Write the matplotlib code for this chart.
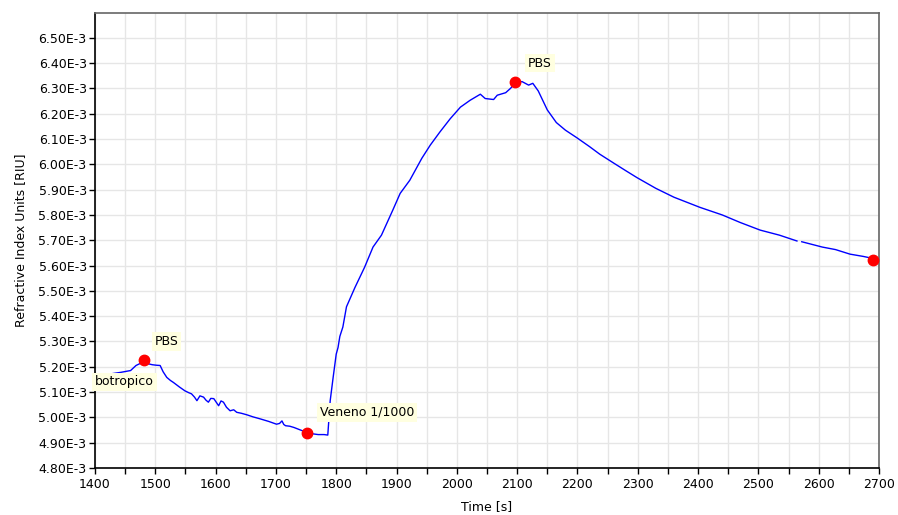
import numpy as np
import matplotlib
matplotlib.use("Agg")
import matplotlib.pyplot as plt
from matplotlib.ticker import MultipleLocator, FuncFormatter

# Messkurve, Zeit in s, Signal in 1E-3 RIU
zeit = [1400, 1403, 1410, 1421, 1432, 1443, 1452, 1459, 1468, 1474, 1481,
        1488, 1495, 1502, 1508, 1513, 1519, 1525, 1530, 1540, 1549, 1555,
        1560, 1565, 1569, 1574, 1580, 1584, 1588, 1592, 1597, 1601, 1605,
        1609, 1613, 1618, 1624, 1630, 1635, 1643, 1652, 1662, 1674, 1688,
        1701, 1706, 1710, 1713, 1716, 1723, 1730, 1744, 1752, 1758, 1770,
        1780, 1786, 1790, 1795, 1800, 1803, 1806, 1811, 1817, 1831, 1847,
        1861, 1875, 1894, 1906, 1922, 1942, 1956, 1972, 1989, 2006, 2022,
        2039, 2047, 2061, 2067, 2081, 2089, 2097, 2108, 2119, 2126, 2135,
        2150, 2165, 2180, 2199, 2220, 2237, 2260, 2280, 2299, 2330, 2360,
        2403, 2440, 2470, 2503, 2535, 2564]
riu = [5.152, 5.160, 5.166, 5.170, 5.174, 5.178, 5.182, 5.185, 5.205, 5.212, 5.216,
       5.212, 5.208, 5.206, 5.205, 5.180, 5.158, 5.146, 5.138, 5.120, 5.105, 5.098,
       5.093, 5.080, 5.066, 5.085, 5.080, 5.068, 5.060, 5.075, 5.074, 5.060, 5.046,
       5.065, 5.060, 5.040, 5.026, 5.030, 5.020, 5.016, 5.010, 5.002, 4.994, 4.984,
       4.973, 4.976, 4.986, 4.972, 4.967, 4.965, 4.960, 4.947, 4.940, 4.936, 4.932,
       4.932, 4.930, 5.066, 5.160, 5.250, 5.276, 5.320, 5.357, 5.437, 5.513, 5.593,
       5.673, 5.720, 5.820, 5.885, 5.937, 6.024, 6.076, 6.128, 6.180, 6.226, 6.253,
       6.277, 6.260, 6.256, 6.273, 6.283, 6.300, 6.322, 6.327, 6.313, 6.320, 6.290,
       6.215, 6.165, 6.135, 6.105, 6.070, 6.040, 6.005, 5.975, 5.947, 5.905, 5.870,
       5.830, 5.800, 5.770, 5.740, 5.720, 5.697]

# zweites Stueck nach der Datenluecke
zeit2 = [2572, 2606, 2628, 2652, 2674, 2690, 2700]
riu2 = [5.694, 5.673, 5.663, 5.645, 5.636, 5.628, 5.620]

# Marker und Beschriftungen
marker_t = [1481, 1752, 2096, 2690]
marker_riu = [5.225, 4.940, 6.324, 5.620]
labels = ["PBS", "botropico", "Veneno 1/1000", "PBS"]
label_t = [1499, 1400, 1773, 2118]
label_riu = [5.300, 5.140, 5.020, 6.400]

plt.rcParams.update({"font.size": 9, "font.family": "DejaVu Sans"})
fig = plt.figure(figsize=(8.98, 5.15), dpi=100)
ax = fig.add_axes([0.1058, 0.0913, 0.8730, 0.8835])

ax.plot(zeit, np.array(riu) * 1e-3, color="#0000ff", lw=1.0, zorder=2)
ax.plot(zeit2, np.array(riu2) * 1e-3, color="#0000ff", lw=1.0, zorder=2)
ax.plot(marker_t, np.array(marker_riu) * 1e-3, "o", color="#ff0000",
        markersize=7.5, zorder=3, clip_on=False)

for txt, tx, ty in zip(labels, label_t, label_riu):
    ax.text(tx, ty * 1e-3, txt, fontsize=9, va="center", ha="left",
            bbox=dict(facecolor="#ffffe0", edgecolor="none", pad=2), zorder=4)

ax.set_xlim(1400, 2700)
ax.set_ylim(4.80e-3, 6.598e-3)
ax.xaxis.set_major_locator(MultipleLocator(100))
ax.xaxis.set_minor_locator(MultipleLocator(50))
ax.yaxis.set_major_locator(MultipleLocator(0.1e-3))
ax.yaxis.set_major_formatter(FuncFormatter(lambda v, p: f"{v*1e3:.2f}E-3"))

ax.grid(True, which="both", axis="x", color="#e6e6e6", lw=1.0)
ax.grid(True, which="major", axis="y", color="#e6e6e6", lw=1.0)
ax.set_axisbelow(True)

ax.tick_params(which="both", direction="out", length=4, width=1, colors="black")
ax.tick_params(axis="y", pad=2)
for s in ["top", "right"]:
    ax.spines[s].set_color("#666666")
    ax.spines[s].set_linewidth(1.2)
for s in ["left", "bottom"]:
    ax.spines[s].set_color("black")
    ax.spines[s].set_linewidth(1.2)

ax.set_xlabel("Time [s]", labelpad=6)
ax.set_ylabel("Refractive Index Units [RIU]", labelpad=8)

fig.savefig("out.png", dpi=100)
